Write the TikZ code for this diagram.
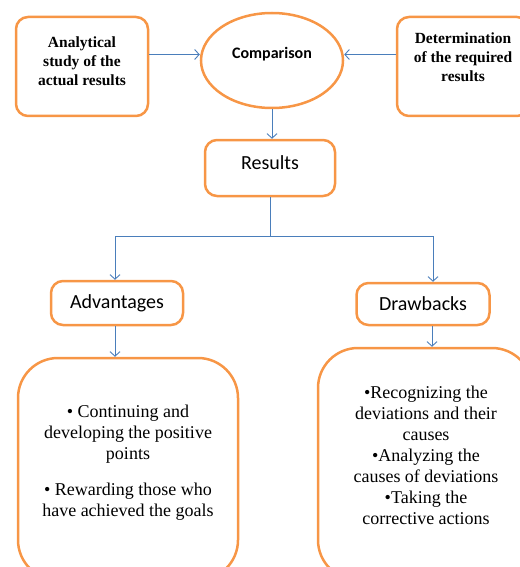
\documentclass[tikz,border=0pt]{standalone}
\usepackage{fontspec}
\setmainfont{Liberation Serif}
\newfontfamily\calibri{Carlito}
\usepackage{xcolor}
\definecolor{boxorange}{HTML}{F79646}
\definecolor{linkblue}{HTML}{4A7EBB}
\tikzset{box/.style={draw=boxorange, line width=2.5pt, rounded corners=12pt},
 bigbox/.style={box, rounded corners=40pt},
 bigtext/.style={align=center, font=\fontsize{18}{21}\selectfont},
 oval/.style={ellipse, draw=boxorange, line width=2.5pt},
 link/.style={draw=linkblue, line width=0.9pt,
   -{Straight Barb[length=4.5pt,width=10pt]}},
 plain/.style={draw=linkblue, line width=0.9pt},
 toptext/.style={align=center, font=\fontsize{15.5}{19}\selectfont\bfseries},
 calitext/.style={font=\fontsize{20}{24}\selectfont\calibri},
 }
\usetikzlibrary{shapes.geometric}
\usetikzlibrary{arrows.meta}

\begin{document}
\begin{tikzpicture}[x=1pt, y=-1pt]
        \useasboundingbox (0,0) rectangle (519,567);
        % top row
        \node[box, minimum width=132pt, minimum height=99pt] (anal) at (82,66.5) {};
        \node[toptext] (analtxt) at ([yshift=5.5pt]anal.center) {Analytical\\study of the\\actual results};
        \node[oval, minimum width=142pt, minimum height=95pt] (comp) at (272,60.5) {};
        \node[font=\fontsize{16}{19}\selectfont\calibri\bfseries] (comptxt) at ([yshift=6pt]comp.center) {Comparison};
        \node[box, minimum width=132pt, minimum height=99pt] (det) at (463,66.5) {};
        \node[toptext] (dettxt) at ([yshift=9.5pt]det.center) {Determination\\of the required\\results};
        % results
        \node[box, minimum width=130pt, minimum height=56pt] (res) at (270,168) {};
        \node[calitext] (restxt) at ([yshift=5pt]res.center) {Results};
        \coordinate (fork) at (270,236);
        \node[box, calitext, minimum width=132pt, minimum height=44pt] (adv) at (117,303) {Advantages};
        \node[box, calitext, minimum width=133pt, minimum height=42pt] (drw) at (423,304) {Drawbacks};
        % bottom boxes
        \node[bigbox, minimum width=220pt, minimum height=222pt] (pros) at (128,469) {};
        \node[bigtext] (prostxt) at ([yshift=6pt]pros.center)
            {\textbullet{} Continuing and\\developing the positive\\points\\[15pt]%
             \textbullet{} Rewarding those who\\have achieved the goals};
        \node[bigbox, minimum width=214pt, minimum height=232pt] (cons) at (425,464) {};
        \node[bigtext] (constxt) at ([xshift=1pt,yshift=9pt]cons.center)
            {\textbullet Recognizing the\\deviations and their\\causes\\%
             \textbullet Analyzing the\\causes of deviations\\%
             \textbullet Taking the\\corrective actions};
        % connectors
        \draw[link] (anal.east |- comptxt) -- (comptxt -| comp.west);
        \draw[link] (det.west |- comptxt) -- (comptxt -| comp.east);
        \draw[link] (comp.south) -- (comp.south |- res.north);
        \draw[plain] (res.south) -- (fork);
        \draw[link] (fork) -| ([xshift=-2pt]adv.north);
        \draw[link] (fork) -| ([xshift=10pt]drw.north);
        \draw[link] ([xshift=-2pt]adv.south) -- ([xshift=-2pt]adv.south |- pros.north);
        \draw[link] ([xshift=9pt]drw.south) -- ([xshift=9pt]drw.south |- cons.north);
    \end{tikzpicture}
\end{document}
